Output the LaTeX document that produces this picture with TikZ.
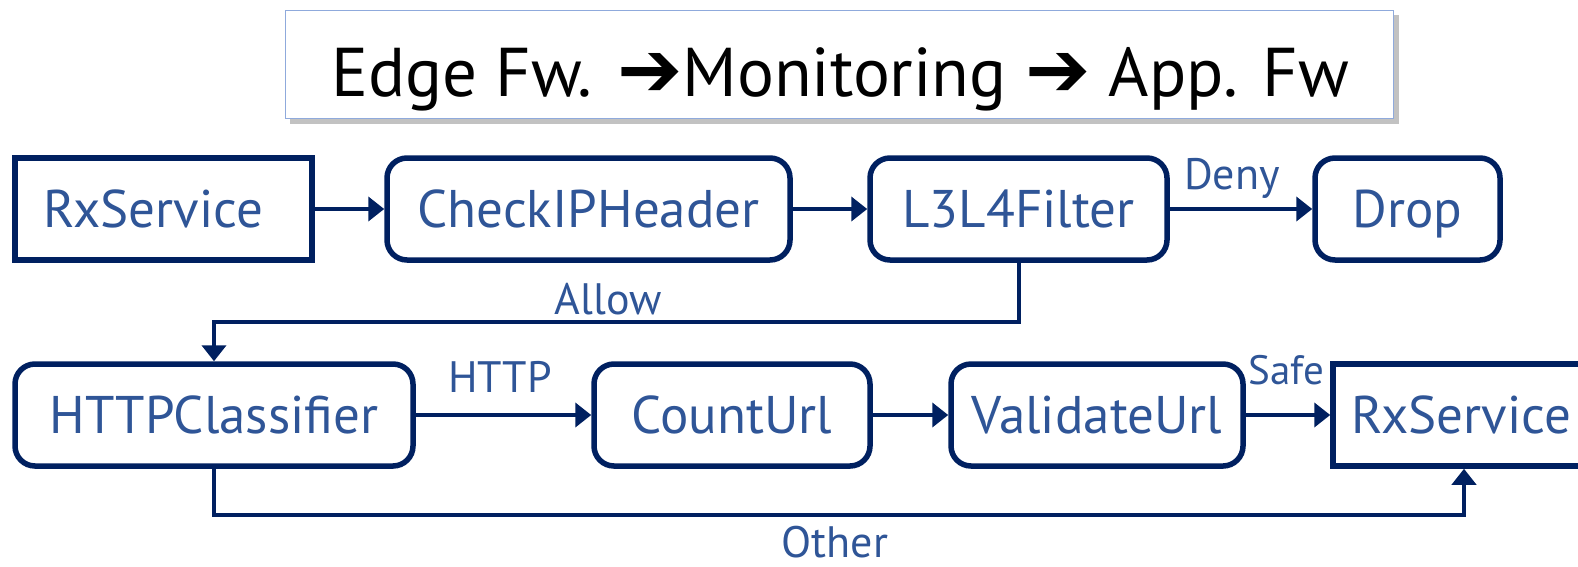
\documentclass[tikz,border=0pt]{standalone}
\usepackage{fontspec}
\setmainfont{PT Sans}
\newfontfamily\dejavu{DejaVu Sans}
\usetikzlibrary{arrows.meta}
\definecolor{navy}{RGB}{0,32,96}
\definecolor{tblue}{RGB}{47,85,151}
\definecolor{tborder}{RGB}{143,170,220}
\begin{document}
\begin{tikzpicture}[x=1pt,y=-1pt,
  box/.style={draw=navy, line width=5.5pt, fill=white, text=tblue,
    font=\fontsize{53}{60}\selectfont, minimum height=102pt, inner sep=0pt,
    text height=37pt, text depth=0pt},
  rbox/.style={box, rounded corners=20pt},
  lab/.style={text=tblue, font=\fontsize{44}{50}\selectfont, inner sep=0pt, anchor=base},
  conn/.style={draw=navy, line width=4.5pt, -{Triangle[length=16pt,width=24pt]}},
  tconn/.style={conn, line width=4pt},
]
\useasboundingbox (0,0) rectangle (1578,566);
% title
\fill[black!40, opacity=0.6] (290,15) rectangle (1399,124);
\node[draw=tborder, line width=1.2pt, fill=white, minimum width=1108pt,
  minimum height=108pt, inner sep=0pt] (title) at (839.5,64.5) {};
\node[anchor=base, inner sep=0pt, font=\fontsize{69}{80}\selectfont]
  (ttext) at (840,96) {Edge Fw. {\dejavu\bfseries\fontsize{78}{80}\selectfont ➔}Monitoring {\dejavu\bfseries\fontsize{78}{80}\selectfont ➔} App. Fw};
% row 1
\node[box, minimum width=297pt] (rx1) at (163.5,209) {RxService\kern20pt};
\node[rbox, minimum width=403pt] (chk) at (588.5,209) {CheckIPHeader};
\node[rbox, minimum width=297pt] (l34) at (1018.5,209) {L3L4Filter};
\node[rbox, minimum width=185pt] (drop) at (1407.5,209) {Drop};
% row 2
\node[rbox, minimum width=398pt] (http) at (214,415) {HTTPClassifier};
\node[rbox, minimum width=276pt] (cnt) at (732,415) {CountUrl};
\node[rbox, minimum width=292pt] (val) at (1097,415) {ValidateUrl};
\node[box, minimum width=297pt] (rx2) at (1481.5,415) {RxService\kern40pt};
% connectors
\draw[conn] (rx1) -- (chk);
\draw[conn] (chk) -- (l34);
\draw[conn] (l34) -- (drop);
\draw[tconn] (l34.south) -- ++(0,59) -| (http.north);
\draw[conn] (http) -- (cnt);
\draw[conn] (cnt) -- (val);
\draw[conn] (val) -- (rx2);
\coordinate (oc) at (1464,515);
\draw[tconn] (http.south) |- (oc) -- (oc |- rx2.south);
% labels
\node[lab] (ldeny) at (1232,189) {Deny};
\node[lab] (lallow) at (608,314) {Allow};
\node[lab] (lhttp) at (500,392) {HTTP};
\node[lab, font=\fontsize{41}{46}\selectfont] (lsafe) at (1286,384) {Safe};
\node[lab] (lother) at (835,557) {Other};
\end{tikzpicture}
\end{document}
